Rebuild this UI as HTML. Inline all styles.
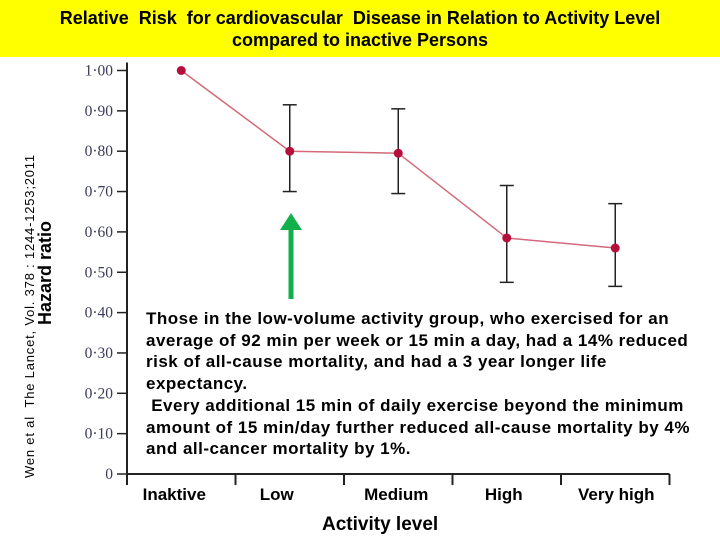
<!DOCTYPE html>
<html><head><meta charset="utf-8"><style>
body{margin:0;width:720px;height:540px;overflow:hidden;background:#fff;font-family:"Liberation Sans",sans-serif}
#title{position:absolute;left:0;top:0;width:720px;height:57px;background:#ffff00;text-align:center;font-weight:bold;font-size:18px;line-height:22px;padding-top:7px;box-sizing:border-box}
.t{position:absolute;font-weight:bold}
</style></head><body>
<div id="title">Relative&nbsp; Risk&nbsp; for cardiovascular&nbsp; Disease in Relation to Activity Level<br>compared to inactive Persons</div>
<svg id="c" width="720" height="540" style="position:absolute;left:0;top:0"></svg>
<div class="t" style="left:22px;top:478px;transform:rotate(-90deg);transform-origin:0 0;font-size:13px;letter-spacing:0.8px;white-space:nowrap;font-weight:normal">Wen et al&nbsp; The Lancet, Vol. 378 : 1244-1253;2011</div>
<div class="t" style="left:35px;top:325px;transform:rotate(-90deg);transform-origin:0 0;font-size:18px;white-space:nowrap">Hazard ratio</div>
<div class="t" style="left:146px;top:308px;width:550px;font-size:17px;letter-spacing:0.5px;line-height:21.7px">Those in the low-volume activity group, who exercised for an average of 92 min per week or 15 min a day, had a 14% reduced risk of all-cause mortality, and had a 3 year longer life expectancy.<br>&nbsp;Every additional 15 min of daily exercise beyond the minimum amount of 15 min/day further reduced all-cause mortality by 4% and all-cancer mortality by 1%.</div>
<div class="t" style="left:322px;top:514px;font-size:19px">Activity level</div>
<script>
const categories=["Inaktive","Low","Medium","High","Very high"];
const values=[1.0,0.80,0.795,0.585,0.56];
const lower=[null,0.70,0.695,0.475,0.465];
const upper=[null,0.915,0.905,0.715,0.67];
const yTicks=[0,0.1,0.2,0.3,0.4,0.5,0.6,0.7,0.8,0.9,1.0];
const yTickLabels=["0","0·10","0·20","0·30","0·40","0·50","0·60","0·70","0·80","0·90","1·00"];
const svg=document.getElementById('c');const NS="http://www.w3.org/2000/svg";
const X0=127,BW=108.5;
const labelShift=[-7,-13,-2,-3,1];
function y(v){return 474-403.5*v}
function x(i){return X0+BW*(i+0.5)}
function mk(t,a,name){const e=document.createElementNS(NS,t);for(const k in a)e.setAttribute(k,a[k]);


svg.appendChild(e);return e}
mk('line',{x1:X0,y1:y(1)-8,x2:X0,y2:474,stroke:'#222','stroke-width':2},'y-axis');
mk('line',{x1:X0,y1:474,x2:X0+BW*5,y2:474,stroke:'#222','stroke-width':2},'x-axis');
yTicks.forEach((v,i)=>{mk('line',{x1:117,y1:y(v),x2:X0,y2:y(v),stroke:'#222','stroke-width':1.5},'y-tick');
const t=mk('text',{x:113,y:y(v)+5,'text-anchor':'end','font-family':'Liberation Serif, serif','font-size':15.5,fill:'#3a3a5a'},'y-tick-label');t.textContent=yTickLabels[i];});
for(let i=0;i<=5;i++)mk('line',{x1:X0+BW*i,y1:474,x2:X0+BW*i,y2:485,stroke:'#222','stroke-width':2},'x-tick');
categories.forEach((c,i)=>{const t=mk('text',{x:x(i)+labelShift[i],y:500,'text-anchor':'middle','font-family':'Liberation Sans, sans-serif','font-size':17,'font-weight':'bold',fill:'#000'},'x-tick-label');t.textContent=c;});
mk('polyline',{points:values.map((v,i)=>x(i)+','+y(v)).join(' '),fill:'none',stroke:'#d26a7a','stroke-width':1.5},'series-line');
values.forEach((v,i)=>{if(lower[i]!=null){
mk('line',{x1:x(i),y1:y(upper[i]),x2:x(i),y2:y(lower[i]),stroke:'#222','stroke-width':1.5},'error-bar');
mk('line',{x1:x(i)-7,y1:y(upper[i]),x2:x(i)+7,y2:y(upper[i]),stroke:'#222','stroke-width':1.5},'error-cap-top');
mk('line',{x1:x(i)-7,y1:y(lower[i]),x2:x(i)+7,y2:y(lower[i]),stroke:'#222','stroke-width':1.5},'error-cap-bottom');}
mk('circle',{cx:x(i),cy:y(v),r:4.5,fill:'#b5103c'},'data-point');});
mk('line',{x1:291,y1:299,x2:291,y2:228,stroke:'#12b04a','stroke-width':5},'arrow-shaft');
mk('polygon',{points:'291,213 280,230 302,230',fill:'#12b04a'},'arrow-head');
</script>
</body></html>
